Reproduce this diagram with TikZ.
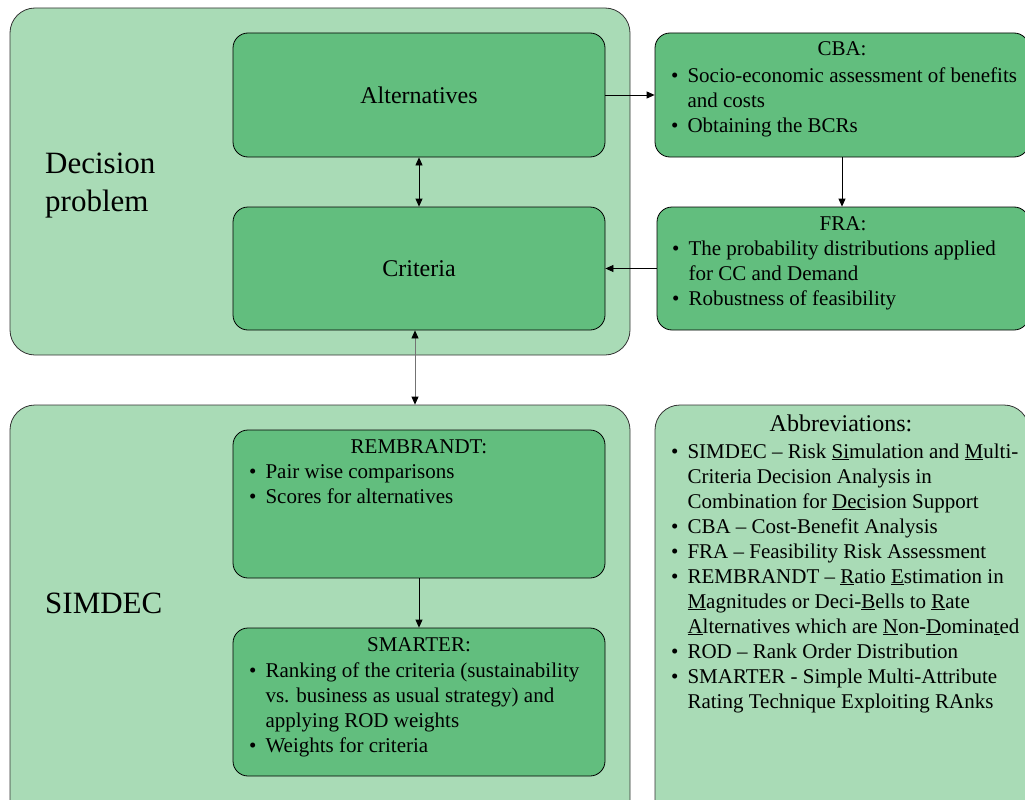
\documentclass[tikz,border=0pt]{standalone}
\usepackage{fontspec}
\setmainfont{Liberation Serif}
\usetikzlibrary{positioning,arrows.meta}
\definecolor{paleg}{RGB}{169,219,182}
\definecolor{midg}{RGB}{98,190,126}
\newcommand{\itm}{\textbullet}
\begin{document}
\begin{tikzpicture}[x=1pt,y=-1pt,
        outer/.style={draw=black!80, fill=paleg, rounded corners=25pt, line width=0.8pt},
        inner/.style={draw=black, fill=midg, rounded corners=15pt, line width=0.8pt},
        big/.style={font=\fontsize{31}{38}\selectfont, align=left, anchor=west, inner sep=0pt},
        head/.style={font=\fontsize{21}{25}\selectfont, anchor=base, inner sep=0pt},
        list/.style={font=\fontsize{21}{25}\selectfont, anchor=base west, inner sep=0pt},
        link/.style={draw=black, line width=0.8pt, -{Triangle[length=8pt,width=7pt,color=black]}},
        both/.style={link, {Triangle[length=8pt,width=7pt,color=black]}-{Triangle[length=8pt,width=7pt,color=black]}}
    ]
    \useasboundingbox (0,0) rectangle (1025,800);
    \clip (0,0) rectangle (1025,800);

    \node[outer, minimum width=620pt, minimum height=347pt] (dp) at (320,181.5) {};
    \node[outer, minimum width=620pt, minimum height=425pt] (sim) at (320,617.5) {};
    \node[outer, minimum width=374pt, minimum height=425pt] (abb) at (842,617.5) {};

    \node[big] (dpt) at (45,186) {Decision\\problem};
    \node[big] (simt) at (45,603) {SIMDEC};

    \node[inner, minimum width=372pt, minimum height=124pt, font=\fontsize{24}{29}\selectfont] (alt) at (419,95) {Alternatives};
    \node[inner, minimum width=372pt, minimum height=123pt, font=\fontsize{24}{29}\selectfont] (crit) at (419,268.5) {Criteria};
    \node[inner, minimum width=374pt, minimum height=124pt] (cba) at (842,95) {};
    \node[inner, minimum width=372pt, minimum height=123pt] (fra) at (843,268.5) {};
    \node[inner, minimum width=372pt, minimum height=148pt] (remb) at (419,504) {};
    \node[inner, minimum width=372pt, minimum height=148pt] (smart) at (419,702) {};

    \node[head] (cbat) at (842,56) {CBA:};
    \node[list] (cbal) at (671,82) {\begin{tabular}[t]{@{}l@{\hspace{9pt}}l@{}}
        \itm & Socio-economic assessment of benefits\\
             & and costs\\
        \itm & Obtaining the BCRs
    \end{tabular}};

    \node[head] (frat) at (843,230) {FRA:};
    \node[list] (fral) at (672,255) {\begin{tabular}[t]{@{}l@{\hspace{9pt}}l@{}}
        \itm & The probability distributions applied\\
             & for CC and Demand\\
        \itm & Robustness of feasibility
    \end{tabular}};

    \node[head] (rembt) at (419,453) {REMBRANDT:};
    \node[list] (rembl) at (249,478) {\begin{tabular}[t]{@{}l@{\hspace{9pt}}l@{}}
        \itm & Pair wise comparisons\\
        \itm & Scores for alternatives
    \end{tabular}};

    \node[head] (smartt) at (419,651) {SMARTER:};
    \node[list] (smartl) at (249,677) {\begin{tabular}[t]{@{}l@{\hspace{9pt}}l@{}}
        \itm & Ranking of the criteria (sustainability\\
             & vs. business as usual strategy) and\\
             & applying ROD weights\\
        \itm & Weights for criteria
    \end{tabular}};

    \node[head, font=\fontsize{24}{29}\selectfont] (abbt) at (841,431) {Abbreviations:};
    \node[list] (abbl) at (671,458) {\begin{tabular}[t]{@{}l@{\hspace{9pt}}l@{}}
        \itm & SIMDEC -- Risk \underline{Si}mulation and \underline{M}ulti-\\
             & Criteria Decision Analysis in\\
             & Combination for \underline{Dec}ision Support\\
        \itm & CBA -- Cost-Benefit Analysis\\
        \itm & FRA -- Feasibility Risk Assessment\\
        \itm & REMBRANDT -- \underline{R}atio \underline{E}stimation in\\
             & \underline{M}agnitudes or Deci-\underline{B}ells to \underline{R}ate\\
             & \underline{A}lternatives which are \underline{N}on-\underline{D}omina\underline{t}ed\\
        \itm & ROD -- Rank Order Distribution\\
        \itm & SMARTER - Simple Multi-Attribute\\
             & Rating Technique Exploiting RAnks
    \end{tabular}};

    \draw[link] (alt.east) -- (cba.west);
    \draw[link] (cba.south) -- (cba.south |- fra.north);
    \draw[link] (fra.west) -- (crit.east);
    \draw[both] (alt.south) -- (crit.north);
    \draw[both, draw=black!55] ([xshift=-4pt]crit.south) -- ([xshift=-4pt]crit.south |- sim.north);
    \draw[link] (remb.south) -- (smart.north);
\end{tikzpicture}
\end{document}
